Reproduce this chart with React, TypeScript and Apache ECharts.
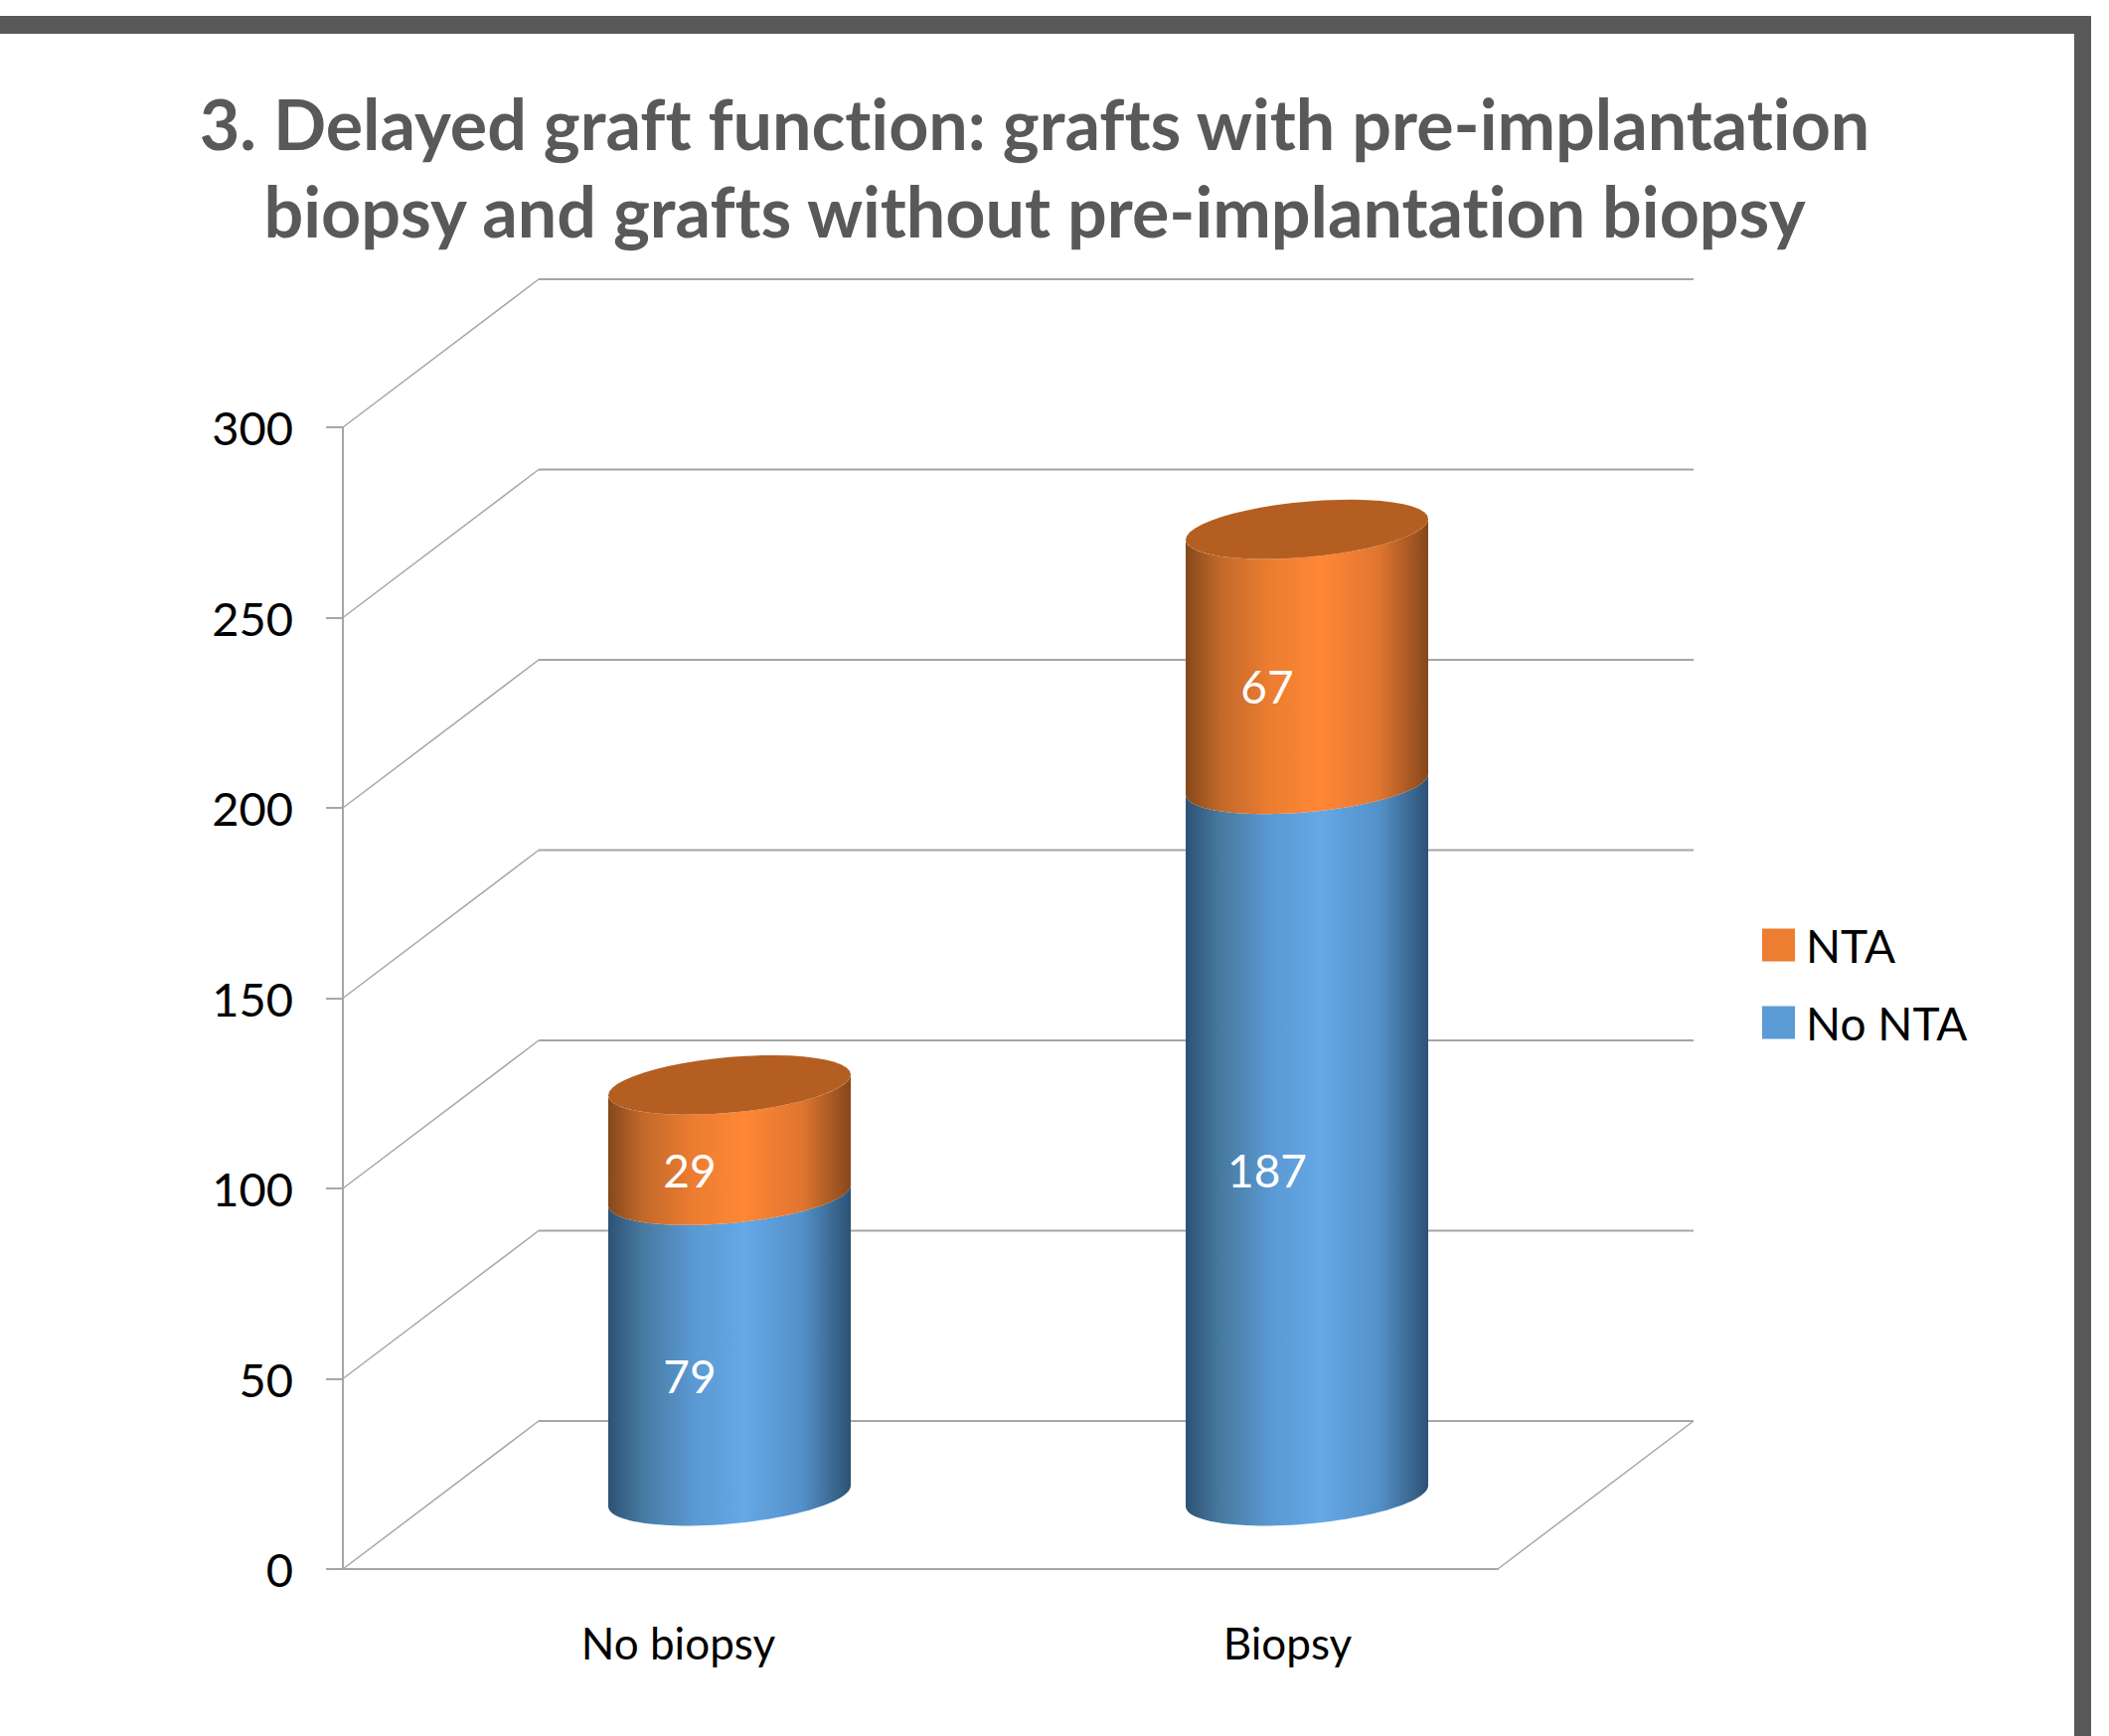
import React, { useEffect, useRef } from "react";
import * as echarts from "echarts";

const chartTitle = "3. Delayed graft function: grafts with pre-implantation\nbiopsy and grafts without pre-implantation biopsy";
const categories = ["No biopsy", "Biopsy"];
const noNta = [79, 187];
const nta = [29, 67];
const yTicks = [0, 50, 100, 150, 200, 250, 300];

const FONT = "Lato";
const DEPTH_X = 197;
const DEPTH_Y = 149;
const RADIUS_X = 122;
const TILT = 10.5;
const RADIUS_Y = 28;
const GRID_COLOR = "#a6a6a6";

const stops = (c: string[]) =>
  [0, 0.14, 0.35, 0.56, 0.8, 1].map((offset, i) => ({ offset, color: c[i] }));
const blueStops = stops(["#2d5275", "#47799f", "#5a99d3", "#64a8e6", "#5490c8", "#2d5275"]);
const orangeStops = stops(["#84481b", "#c2682a", "#ec7d31", "#ff8735", "#e07530", "#84481b"]);

function ellipsePoint(cx: number, cy: number, t: number) {
  return [cx + RADIUS_X * Math.cos(t), cy - TILT * Math.cos(t) - RADIUS_Y * Math.sin(t)];
}
function arc(cx: number, cy: number, from: number, to: number) {
  const pts: number[][] = [];
  const n = 48;
  for (let i = 0; i <= n; i++) pts.push(ellipsePoint(cx, cy, from + ((to - from) * i) / n));
  return pts;
}

function cylinderSeries(name: string, color: string, gradient: any, bases: number[], values: number[], cap: boolean) {
  return {
    type: "custom",
    name,
    itemStyle: { color },
    clip: false,
    silent: true,
    encode: { x: 0, y: [1, 2] },
    data: values.map((v, i) => [i, bases[i], bases[i] + v, v]),
    renderItem: (_: any, api: any) => {
      const idx = api.value(0);
      const low = api.coord([idx, api.value(1)]);
      const high = api.coord([idx, api.value(2)]);
      const mid = api.coord([idx, (api.value(1) + api.value(2)) / 2]);
      const cx = low[0] + DEPTH_X / 2;
      const y0 = low[1] - DEPTH_Y / 2 + 1;
      const y1 = high[1] - DEPTH_Y / 2 + 1;
      const body = [
        ...arc(cx, y0, Math.PI, 2 * Math.PI),
        ...arc(cx, y1, 2 * Math.PI, Math.PI),
      ];
      const children: any[] = [
        {
          type: "polygon",
          shape: { points: body },
          style: { fill: new echarts.graphic.LinearGradient(0, 0, 1, 0, gradient) },
        },
      ];
      if (cap) {
        children.push({
          type: "polygon",
          shape: { points: arc(cx, y1, 0, 2 * Math.PI) },
          style: { fill: "#b55e22" },
        });
      }
      children.push({
        type: "text",
        style: {
          x: cx - 40,
          y: mid[1] - DEPTH_Y / 2 + 31,
          text: String(api.value(3)),
          fill: "#ffffff",
          fontFamily: FONT,
          fontSize: 46,
          align: "center",
          verticalAlign: "middle",
        },
      });
      return { type: "group", children };
    },
  };
}

export default function App() {
  const ref = useRef<HTMLDivElement>(null);
  useEffect(() => {
    const chart = echarts.init(ref.current!, undefined, { renderer: "svg" });
    chart.setOption({
      animation: false,
      backgroundColor: "#ffffff",
      title: {
        text: chartTitle,
        left: 1036,
        top: 75,
        textAlign: "center",
        textStyle: { fontFamily: FONT, fontSize: 70, fontWeight: "bold", color: "#595959", lineHeight: 88 },
      },
      legend: {
        data: ["NTA", "No NTA"],
        orient: "vertical",
        left: 1768,
        top: 923,
        icon: "rect",
        itemWidth: 33,
        itemHeight: 33,
        itemGap: 32,
        textStyle: { fontFamily: FONT, fontSize: 46, color: "#000000", padding: [0, 0, 0, 6] },
        selectedMode: false,
      },
      grid: { left: 345, top: 430, width: 1162, height: 1149 },
      xAxis: {
        type: "category",
        data: categories,
        axisLine: { lineStyle: { color: GRID_COLOR, width: 2 } },
        axisTick: { show: false },
        axisLabel: {
          interval: 0,
          margin: 52,
          formatter: (v: string, i: number) => `{${i === 0 ? "a" : "b"}|${v}}`,
          rich: {
            a: { fontFamily: FONT, fontSize: 44, color: "#000000", padding: [0, 0, 0, 94] },
            b: { fontFamily: FONT, fontSize: 44, color: "#000000", padding: [0, 0, 0, 158] },
          },
        },
      },
      yAxis: {
        type: "value",
        min: 0,
        max: 300,
        interval: 50,
        axisLine: { show: true, lineStyle: { color: GRID_COLOR, width: 2 } },
        axisTick: { show: true, length: 17, lineStyle: { color: GRID_COLOR, width: 2 } },
        splitLine: { show: false },
        axisLabel: { margin: 50, fontFamily: FONT, fontSize: 47, color: "#000000", padding: [4, 0, 0, 0] },
      },
      graphic: [
        { type: "rect", shape: { x: 0, y: 16, width: 2104, height: 18 }, style: { fill: "#595959" } },
        { type: "rect", shape: { x: 2087, y: 16, width: 17, height: 1731 }, style: { fill: "#595959" } },
      ],
      series: [
        {
          type: "custom",
          name: "walls",
          silent: true,
          clip: false,
          z: 1,
          encode: { y: 1 },
          data: yTicks.map((v) => [0, v]),
          renderItem: (params: any, api: any) => {
            const p = api.coord([0, api.value(1)]);
            const left = params.coordSys.x;
            const right = left + params.coordSys.width;
            const y = p[1];
            const children: any[] = [
              {
                type: "line",
                shape: { x1: left, y1: y, x2: left + DEPTH_X, y2: y - DEPTH_Y },
                style: { stroke: GRID_COLOR, lineWidth: 1.5 },
              },
              {
                type: "line",
                shape: { x1: left + DEPTH_X, y1: y - DEPTH_Y, x2: right + DEPTH_X, y2: y - DEPTH_Y },
                style: { stroke: GRID_COLOR, lineWidth: 2 },
              },
            ];
            if (api.value(1) === 0) {
              children.push({
                type: "line",
                shape: { x1: right, y1: y, x2: right + DEPTH_X, y2: y - DEPTH_Y },
                style: { stroke: GRID_COLOR, lineWidth: 1.5 },
              });
            }
            return { type: "group", children };
          },
        },
        { ...cylinderSeries("No NTA", "#5b9bd5", blueStops, [0, 0], noNta, false), z: 2 },
        { ...cylinderSeries("NTA", "#ed7d31", orangeStops, noNta, nta, true), z: 3 },
      ],
    });
    return () => chart.dispose();
  }, []);
  return <div ref={ref} style={{ position: "fixed", left: 0, top: 0, width: 2122, height: 1747, fontVariantLigatures: "none" }} />;
}
